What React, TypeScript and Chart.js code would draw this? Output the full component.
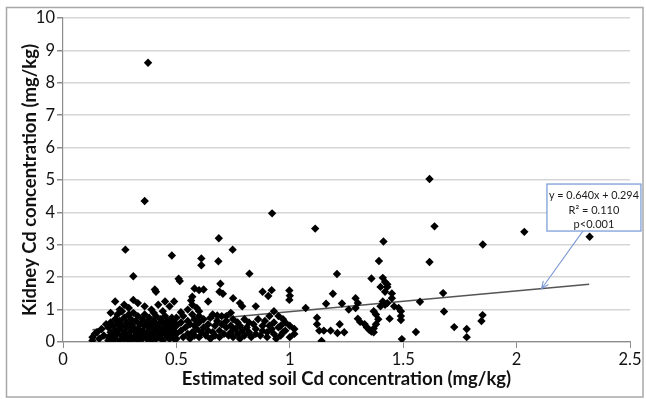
import React, { useEffect, useRef } from "react";
import { Chart, registerables } from "chart.js";

Chart.register(...registerables);

// ---- Data ----
const xTitle = "Estimated soil Cd concentration (mg/kg)";
const yTitle = "Kidney Cd concentration (mg/kg)";

const trendSlope = 0.64;
const trendIntercept = 0.294;
const trendXRange = [0.13, 2.32];
const noteLines = ["y = 0.640x + 0.294", "R² = 0.110", "p<0.001"];
const noteCenter = [2.341, 4.15];
const noteArrowFrom = [2.293, 3.43];
const noteArrowToX = 2.11;

// sparse / outlying observations [soil Cd, kidney Cd]
const sparsePoints: [number, number][] = [
  [0.375, 8.62], [0.36, 4.35], [0.275, 2.85], [0.31, 2.03], [0.48, 2.67], [0.51, 1.95],
  [0.515, 1.88], [0.405, 1.62], [0.41, 1.55], [0.687, 3.2], [0.685, 2.49], [0.748, 2.85],
  [0.61, 2.58], [0.61, 2.37], [0.694, 1.8], [0.69, 1.55], [0.705, 1.49], [0.822, 2.11],
  [0.922, 3.97], [0.92, 1.6], [0.905, 1.42], [0.88, 1.55], [0.998, 1.59], [1.0, 1.43],
  [0.998, 1.3], [1.112, 3.5], [1.208, 2.1], [1.19, 1.49], [1.413, 3.1], [1.393, 2.5],
  [1.616, 5.03], [1.638, 3.57], [1.616, 2.47], [2.034, 3.4], [2.322, 3.25], [1.851, 3.01],
  [1.676, 1.51], [1.68, 0.94], [1.725, 0.46], [1.78, 0.4], [1.78, 0.15], [1.85, 0.83],
  [1.845, 0.65], [1.574, 1.24], [1.556, 0.31], [1.494, 0.09],
];

// observations between 1.0 and 1.5 mg/kg soil
const midSoilPoints: [number, number][] = [
  [1.36, 1.96], [1.16, 1.18], [1.07, 1.05], [1.23, 1.19], [1.26, 1.0], [1.29, 1.35],
  [1.3, 1.2], [1.29, 1.05], [0.93, 0.95], [0.95, 0.8], [0.97, 0.7], [0.98, 0.6],
  [1.0, 0.5], [1.02, 0.4], [1.02, 0.25], [1.0, 0.15], [0.97, 0.3], [0.95, 0.45],
  [1.12, 0.75], [1.12, 0.55], [1.13, 0.35], [1.15, 0.35], [1.18, 0.35], [1.21, 0.28],
  [1.24, 0.3], [1.22, 0.55], [1.14, 0.03], [1.3, 0.72], [1.31, 0.62], [1.33, 0.55],
  [1.34, 0.45], [1.35, 0.38], [1.37, 0.3], [1.41, 1.98], [1.42, 1.85], [1.43, 1.78],
  [1.43, 1.7], [1.4, 1.7], [1.42, 1.55], [1.45, 1.5], [1.45, 1.35], [1.41, 1.25],
  [1.42, 1.15], [1.4, 1.1], [1.43, 1.2], [1.46, 1.1], [1.48, 1.05], [1.49, 0.95],
  [1.49, 0.8], [1.49, 0.68], [1.44, 0.72], [1.37, 0.95], [1.38, 0.85], [1.39, 0.7],
  [1.38, 0.55], [1.37, 0.42], [1.36, 0.32],
];

// observations between 0.5 and 1.0 mg/kg soil
const lowMidSoilPoints: [number, number][] = [
  [0.58, 1.65], [0.6, 1.6], [0.62, 1.62], [0.57, 1.4], [0.565, 1.28], [0.57, 1.15],
  [0.64, 1.25], [0.75, 1.35], [0.78, 1.2], [0.79, 1.1], [0.85, 1.1], [0.59, 1.05],
  [0.6, 0.95], [0.74, 0.9], [0.55, 1.0], [0.52, 0.92], [0.66, 0.85], [0.68, 0.82],
  [0.72, 0.8], [0.5, 0.25], [0.5, 0.5], [0.5, 0.75], [0.5, 0.1], [0.52, 0.35],
  [0.52, 0.6], [0.53, 0.15], [0.53, 0.8], [0.54, 0.45], [0.55, 0.25], [0.55, 0.65],
  [0.56, 0.1], [0.56, 0.55], [0.57, 0.3], [0.57, 0.85], [0.58, 0.2], [0.58, 0.5],
  [0.58, 0.7], [0.59, 0.4], [0.6, 0.15], [0.6, 0.6], [0.6, 0.8], [0.61, 0.3],
  [0.62, 0.45], [0.62, 0.7], [0.63, 0.2], [0.64, 0.55], [0.64, 0.35], [0.65, 0.1],
  [0.65, 0.75], [0.66, 0.3], [0.67, 0.5], [0.67, 0.2], [0.68, 0.65], [0.69, 0.35],
  [0.69, 0.15], [0.7, 0.55], [0.7, 0.8], [0.71, 0.25], [0.72, 0.45], [0.72, 0.65],
  [0.73, 0.2], [0.74, 0.5], [0.74, 0.3], [0.75, 0.7], [0.75, 0.15], [0.76, 0.4],
  [0.77, 0.25], [0.77, 0.6], [0.78, 0.5], [0.78, 0.1], [0.79, 0.35], [0.8, 0.7],
  [0.8, 0.2], [0.81, 0.45], [0.82, 0.3], [0.82, 0.6], [0.83, 0.15], [0.84, 0.55],
  [0.85, 0.25], [0.85, 0.4], [0.86, 0.7], [0.87, 0.2], [0.88, 0.5], [0.88, 0.35],
  [0.89, 0.65], [0.9, 0.3], [0.9, 0.15], [0.91, 0.5], [0.91, 0.8], [0.92, 0.4],
  [0.93, 0.25], [0.93, 0.6], [0.94, 0.1], [0.96, 0.5], [0.96, 0.2], [0.98, 0.35],
];

// observations below 0.5 mg/kg soil
const lowSoilPoints: [number, number][] = [
  [0.31, 1.3], [0.23, 1.25], [0.45, 1.25], [0.49, 1.25], [0.33, 1.2], [0.27, 1.15],
  [0.36, 1.1], [0.42, 1.15], [0.47, 1.1], [0.29, 1.05], [0.25, 1.0], [0.39, 1.0],
  [0.44, 0.95], [0.21, 0.9], [0.13, 0.15], [0.13, 0.05], [0.15, 0.3], [0.14, 0.25],
  [0.17, 0.4], [0.16, 0.1], [0.18, 0.2], [0.19, 0.55], [0.2, 0.05], [0.2, 0.15],
  [0.2, 0.45], [0.21, 0.1], [0.21, 0.3], [0.21, 0.6], [0.22, 0.2], [0.22, 0.5],
  [0.22, 0.05], [0.23, 0.35], [0.23, 0.7], [0.23, 0.1], [0.24, 0.25], [0.24, 0.55],
  [0.24, 0.85], [0.25, 0.05], [0.25, 0.4], [0.25, 0.65], [0.26, 0.2], [0.26, 0.5],
  [0.26, 0.95], [0.27, 0.1], [0.27, 0.3], [0.27, 0.75], [0.28, 0.45], [0.28, 0.6],
  [0.28, 0.15], [0.29, 0.25], [0.29, 0.85], [0.29, 0.05], [0.3, 0.35], [0.3, 0.55],
  [0.3, 0.15], [0.3, 0.7], [0.31, 0.1], [0.31, 0.45], [0.31, 0.9], [0.32, 0.2],
  [0.32, 0.65], [0.32, 0.3], [0.33, 0.05], [0.33, 0.4], [0.33, 0.8], [0.34, 0.25],
  [0.34, 0.55], [0.34, 0.15], [0.35, 0.35], [0.35, 0.7], [0.35, 0.1], [0.36, 0.2],
  [0.36, 0.5], [0.36, 0.85], [0.37, 0.3], [0.37, 0.6], [0.37, 0.1], [0.38, 0.15],
  [0.38, 0.45], [0.38, 0.75], [0.39, 0.25], [0.39, 0.55], [0.39, 0.05], [0.4, 0.35],
  [0.4, 0.65], [0.4, 0.2], [0.4, 0.9], [0.41, 0.1], [0.41, 0.45], [0.41, 0.8],
  [0.42, 0.3], [0.42, 0.55], [0.42, 0.15], [0.43, 0.2], [0.43, 0.7], [0.43, 0.4],
  [0.44, 0.05], [0.44, 0.35], [0.44, 0.6], [0.45, 0.25], [0.45, 0.5], [0.45, 0.8],
  [0.46, 0.15], [0.46, 0.4], [0.46, 0.65], [0.47, 0.3], [0.47, 0.55], [0.47, 0.1],
  [0.48, 0.2], [0.48, 0.75], [0.48, 0.45], [0.49, 0.35], [0.49, 0.6], [0.49, 0.1],
];

const FONT = "Lato, 'Open Sans', 'DejaVu Sans', sans-serif";

const toXY = (arr: [number, number][]) => arr.map(([x, y]) => ({ x, y }));

const framePlugin = {
  id: "frameAndNote",
  beforeDraw(chart: any) {
    const ctx = chart.ctx;
    ctx.save();
    ctx.fillStyle = "#ffffff";
    ctx.fillRect(0, 0, chart.width, chart.height);
    ctx.restore();
  },
  afterDraw(chart: any) {
    const ctx = chart.ctx;
    const xs = chart.scales.x;
    const ys = chart.scales.y;
    ctx.save();
    // outer frame
    ctx.strokeStyle = "#a8a8a8";
    ctx.lineWidth = 1.5;
    ctx.strokeRect(6.5, 7.5, chart.width - 3 - 6.5, chart.height - 2 - 7.5);

    // annotation arrow
    const ax0 = xs.getPixelForValue(noteArrowFrom[0]);
    const ay0 = ys.getPixelForValue(noteArrowFrom[1]);
    const ax1 = xs.getPixelForValue(noteArrowToX);
    const ay1 = ys.getPixelForValue(trendSlope * noteArrowToX + trendIntercept);
    ctx.strokeStyle = "#7b98d4";
    ctx.lineWidth = 1.1;
    ctx.beginPath();
    ctx.moveTo(ax0, ay0);
    ctx.lineTo(ax1, ay1);
    const ang = Math.atan2(ay1 - ay0, ax1 - ax0);
    const L = 8;
    ctx.moveTo(ax1 - L * Math.cos(ang - 0.4), ay1 - L * Math.sin(ang - 0.4));
    ctx.lineTo(ax1, ay1);
    ctx.lineTo(ax1 - L * Math.cos(ang + 0.4), ay1 - L * Math.sin(ang + 0.4));
    ctx.stroke();

    // annotation box
    const cx = xs.getPixelForValue(noteCenter[0]);
    const cy = ys.getPixelForValue(noteCenter[1]);
    const w = 94;
    const h = 47;
    ctx.fillStyle = "#ffffff";
    ctx.fillRect(cx - w / 2, cy - h / 2, w, h);
    ctx.strokeStyle = "#7f9fd8";
    ctx.lineWidth = 1.3;
    ctx.strokeRect(cx - w / 2, cy - h / 2, w, h);
    ctx.fillStyle = "#1a1a1a";
    ctx.font = `11px ${FONT}`;
    ctx.textAlign = "center";
    ctx.textBaseline = "middle";
    noteLines.forEach((t, i) => {
      ctx.fillText(t, cx, cy - 12 + i * 14.5, w - 4);
    });
    ctx.restore();
  },
};

export default function App() {
  const ref = useRef<HTMLCanvasElement | null>(null);

  useEffect(() => {
    if (!ref.current) return;
    const allPoints = [
      ...toXY(lowSoilPoints),
      ...toXY(lowMidSoilPoints),
      ...toXY(midSoilPoints),
      ...toXY(sparsePoints),
    ];
    const trendData = trendXRange.map((x) => ({ x, y: trendSlope * x + trendIntercept }));

    const chart = new Chart(ref.current, {
      type: "scatter",
      data: {
        datasets: [
          {
            type: "line",
            data: trendData,
            borderColor: "#555555",
            borderWidth: 1.5,
            pointRadius: 0,
            fill: false,
            order: 5,
          } as any,
          {
            data: allPoints,
            pointStyle: "rectRot",
            pointRadius: 4.2,
            backgroundColor: "#000000",
            borderWidth: 0,
            order: 1,
          },
        ],
      },
      options: {
        animation: false,
        responsive: false,
        devicePixelRatio: 1,
        layout: { padding: { left: 0, top: 18, right: 16, bottom: 0 } },
        plugins: {
          legend: { display: false },
          tooltip: { enabled: false },
        },
        scales: {
          x: {
            type: "linear",
            min: 0,
            max: 2.5,
            ticks: {
              stepSize: 0.5,
              color: "#111",
              font: { family: FONT, size: 16.5 },
              padding: 2,
              maxRotation: 0,
              callback: (v: any) => String(Number(v)),
            },
            grid: {
              drawOnChartArea: false,
              drawTicks: true,
              tickLength: 6,
              tickColor: "#8c8c8c",
            },
            border: { color: "#8c8c8c", width: 1.2 },
            title: {
              display: true,
              text: xTitle,
              color: "#111",
              font: { family: FONT, size: 18.5, weight: "bold" },
              padding: { top: 0, bottom: 9 },
            },
            afterFit(scale: any) {
              scale.height = 57;
            },
          },
          y: {
            type: "linear",
            min: 0,
            max: 10,
            ticks: {
              stepSize: 1,
              color: "#111",
              font: { family: FONT, size: 16.5 },
              padding: 2,
              callback: (v: any) => String(Number(v)),
            },
            grid: {
              color: "#d6d6d6",
              lineWidth: 1.5,
              tickLength: 6,
              tickColor: "#8c8c8c",
            },
            border: { color: "#8c8c8c", width: 1.2 },
            title: {
              display: true,
              text: yTitle,
              color: "#111",
              font: { family: FONT, size: 18.5, weight: "bold" },
              padding: { top: 19, bottom: 0 },
            },
            afterFit(scale: any) {
              scale.width = 63;
            },
          },
        },
      },
      plugins: [framePlugin],
    });
    return () => chart.destroy();
  }, []);

  return (
    <div style={{ position: "fixed", left: 0, top: 0, width: 646, height: 399 }}>
      <canvas ref={ref} width={646} height={399} />
    </div>
  );
}
